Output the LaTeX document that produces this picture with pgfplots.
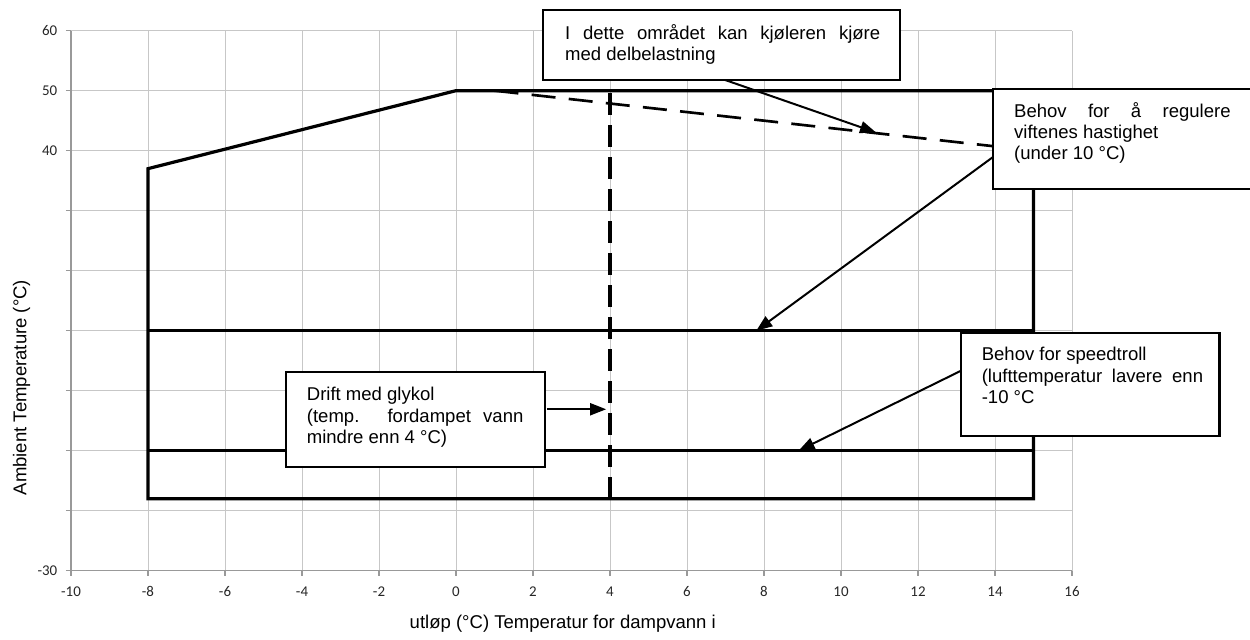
\documentclass[border=0pt]{standalone}
\usepackage{fontspec}
\setmainfont{Liberation Sans}
\newfontfamily\tickfont{Carlito}
\usepackage{pgfplots}
\pgfplotsset{compat=1.18}
\usetikzlibrary{arrows.meta}
\newcommand\boxfont{\fontsize{13.9}{16}\selectfont}
\begin{document}
\begin{tikzpicture}
\begin{axis}[
  scale only axis, width=750.75pt, height=405pt,
  xmin=-10, xmax=16, ymin=-30, ymax=60,
  clip=false,
  axis x line*=bottom, axis y line*=left,
  axis line style={-, draw=black!40, line width=1pt},
  xtick={-10,-8,...,16},
  xticklabels={-10,-8,-6,-4,-2,0,2,4,6,8,10,12,14,16},
  ytick={-30,-20,...,60},
  yticklabels={-30,,,,,,,40,50,60},
  tick align=outside, major tick length=3.75pt,
  tick style={draw=black!40, line width=0.8pt},
  grid=major, grid style={draw=black!22, line width=0.75pt},
  ticklabel style={font=\tickfont\fontsize{11.2}{13}\selectfont, text=black!85},
  xticklabel style={text height=7.1pt, text depth=0pt, yshift=-5pt},
  yticklabel style={xshift=-3pt},
  xlabel={utløp (°C) Temperatur for dampvann i},
  ylabel={Ambient Temperature (°C)},
  label style={font=\fontsize{13.9}{16}\selectfont},
  xlabel style={at={(axis description cs:0.4913,-0.0974)}, anchor=center},
  ylabel style={at={(axis description cs:-0.0494,0.339)}, anchor=center},
]
% operating envelope
\addplot[black, line width=2.4pt, line join=miter] coordinates {(-8,-18) (-8,37) (0,50) (15,50) (15,-18)} -- cycle;
\addplot[black, line width=2pt] coordinates {(-8,10) (15,10)};
\addplot[black, line width=2pt] coordinates {(-8,-10) (15,-10)};
\addplot[black, line width=2.5pt, dash pattern=on 16pt off 8pt] coordinates {(4,-18) (4,50)};
\addplot[black, line width=2pt, dash pattern=on 18pt off 10pt] coordinates {(1,50) (15,40)};

% annotation boxes
\draw[line width=1.6pt, fill=white] (axis cs:2.26,63.45) rectangle (axis cs:11.53,51.78);
\node[anchor=base west, text width=236.25pt, align=justify, inner sep=0pt, font=\boxfont]
  at (axis cs:2.83,58.57) {I dette området kan kjøleren kjøre\linebreak med delbelastning};

\draw[line width=1.6pt, fill=white] (axis cs:13.95,50.28) rectangle (axis cs:20.70,33.62);
\node[anchor=base west, text width=162.4pt, align=justify, inner sep=0pt, font=\boxfont]
  at (axis cs:14.49,45.57) {Behov for å regulere\linebreak viftenes hastighet\newline (under 10 °C)};

\draw[line width=1.6pt, fill=white] (axis cs:-4.42,3.17) rectangle (axis cs:2.31,-12.67);
\node[anchor=base west, text width=162.4pt, align=justify, inner sep=0pt, font=\boxfont]
  at (axis cs:-3.88,-1.67) {Drift med glykol\newline (temp. fordampet vann\linebreak mindre enn 4 °C)};

\draw[line width=1.6pt, fill=white] (axis cs:13.12,9.57) rectangle (axis cs:19.83,-7.5);
\node[anchor=base west, text width=166pt, align=justify, inner sep=0pt, font=\boxfont]
  at (axis cs:13.65,4.95) {Behov for speedtroll\newline (lufttemperatur lavere enn\linebreak -10 °C};

% arrows
\draw[line width=1.5pt, -{Triangle[length=12pt,width=9pt]}] (axis cs:6.99,51.78) -- (axis cs:10.91,43.03);
\draw[line width=1.5pt, -{Triangle[length=12pt,width=9pt]}] (axis cs:13.95,38.95) -- (axis cs:7.8,10);
\draw[line width=1.5pt, -{Triangle[length=12pt,width=9pt]}] (axis cs:2.36,-3.1) -- (axis cs:3.9,-3.1);
\draw[line width=1.5pt, -{Triangle[length=12pt,width=9pt]}] (axis cs:13.12,3.33) -- (axis cs:8.9,-10);
\end{axis}
\pgfresetboundingbox
\path[use as bounding box] (-53.25pt,-51.98pt) rectangle (884.25pt,428pt);
\end{tikzpicture}
\end{document}
